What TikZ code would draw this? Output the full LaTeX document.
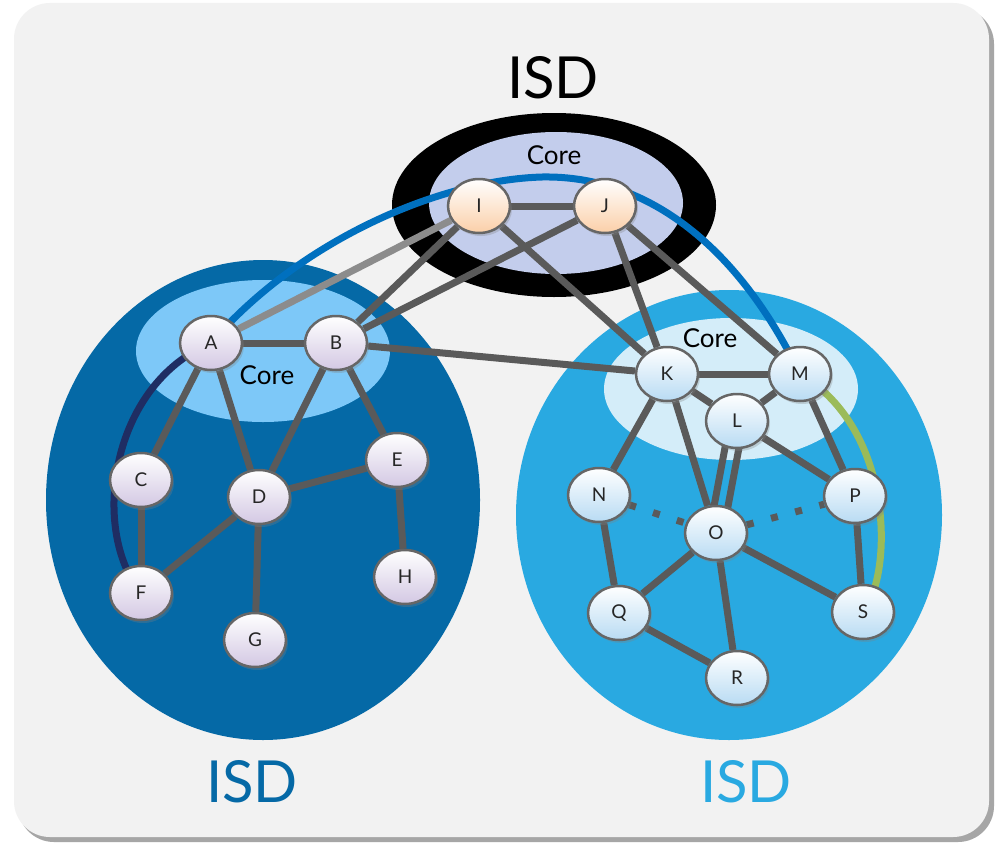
\documentclass[tikz,border=0pt]{standalone}
\usepackage{fontspec}
\setmainfont{Lato}
\usetikzlibrary{shapes.geometric,shadows}
\pgfdeclarelayer{back}
\pgfdeclarelayer{edges}
\pgfsetlayers{back,edges,main}
\definecolor{bgc}{HTML}{F2F2F2}
\definecolor{leftisd}{HTML}{0569A6}
\definecolor{leftcore}{HTML}{7DC8F8}
\definecolor{rightisd}{HTML}{29A9E1}
\definecolor{rightcore}{HTML}{D4EDF9}
\definecolor{topcore}{HTML}{C3CDEC}
\definecolor{edgec}{HTML}{5A5A5A}
\definecolor{edgelight}{HTML}{8C8C8C}
\definecolor{bluearc}{HTML}{0070BF}
\definecolor{navyarc}{HTML}{1F2D63}
\definecolor{greenarc}{HTML}{9BBB59}
\definecolor{ndborder}{HTML}{666666}
\definecolor{purp}{HTML}{D3C8E3}
\definecolor{peach}{HTML}{FBCFA8}
\definecolor{lblue}{HTML}{B8DBF3}
\tikzset{
  nd/.style={ellipse, draw=ndborder, line width=2.5pt, minimum width=62pt, minimum height=54pt,
    inner sep=0pt, font=\fontsize{19}{19}\selectfont, text=black!85,
    drop shadow={opacity=0.3, shadow xshift=2pt, shadow yshift=-3pt}},
  lnd/.style={nd, top color=white, bottom color=purp},
  tnd/.style={nd, top color=white, bottom color=peach},
  rnd/.style={nd, top color=white, bottom color=lblue},
  ed/.style={line width=7pt, draw=edgec},
  arcline/.style={line width=7pt},
  dotted link/.style={line width=7pt, draw=edgec, dash pattern=on 7pt off 18pt},
  corelbl/.style={font=\fontsize{26}{26}\selectfont, text=black},
  isdlbl/.style={font=\fontsize{58}{58}\selectfont}
}
\begin{document}
\begin{tikzpicture}[x=1pt,y=-1pt]
\useasboundingbox (0,0) rectangle (1000,843);
\begin{pgfonlayer}{back}
  \fill[white] (0,0) rectangle (1000,843);
  \fill[black!35, rounded corners=36pt] (18,8) rectangle (994,842);
  \fill[bgc, rounded corners=36pt] (14,3) rectangle (989,837);
  % top ISD
  \fill[black] (554,205) ellipse [x radius=162, y radius=92];
  \fill[topcore] (556,203) ellipse [x radius=127, y radius=71];
  % left ISD
  \fill[leftisd] (263,500) ellipse [x radius=217, y radius=240];
  \fill[leftcore] (263,351) ellipse [x radius=127, y radius=71];
  % right ISD
  \fill[rightisd] (729,515) ellipse [x radius=213, y radius=225];
  \fill[rightcore] (731,389) ellipse [x radius=127, y radius=71];
\end{pgfonlayer}

\node[isdlbl, text=black] (isdtop) at (553,78) {ISD};
\node[isdlbl, text=leftisd] (isdleft) at (252,782) {ISD};
\node[isdlbl, text=rightisd] (isdright) at (746,782) {ISD};
\node[corelbl] (coretop) at (554,155) {Core};
\node[corelbl] (coreleft) at (267,375) {Core};
\node[corelbl] (coreright) at (710,338) {Core};

\node[tnd] (I) at (479,206) {I};
\node[tnd] (J) at (605,206) {J};

\node[lnd] (A) at (211,343) {A};
\node[lnd] (B) at (336,343) {B};
\node[lnd] (C) at (141,480) {C};
\node[lnd] (D) at (259,497) {D};
\node[lnd] (E) at (397,460) {E};
\node[lnd] (F) at (141,593) {F};
\node[lnd] (G) at (255,640) {G};
\node[lnd] (H) at (405,577) {H};

\node[rnd] (K) at (667,374) {K};
\node[rnd] (M) at (800,374) {M};
\node[rnd] (L) at (737,421) {L};
\node[rnd] (N) at (599,495) {N};
\node[rnd] (O) at (716,533) {O};
\node[rnd] (P) at (855,496) {P};
\node[rnd] (Q) at (619,613) {Q};
\node[rnd] (R) at (737,678) {R};
\node[rnd] (S) at (863,612) {S};

\coordinate (arctop) at (542,177);

\begin{pgfonlayer}{edges}
  % coloured paths
  \draw[arcline, bluearc] (A.center) .. controls (300,240) and (440,180) .. (arctop)
        .. controls (650,175) and (740,250) .. (M.center);
  \draw[arcline, navyarc] (A.center) .. controls (110,385) and (90,530) .. (F.center);
  \draw[arcline, greenarc] (M.center) .. controls (895,430) and (893,575) .. (S.center);
  % links
  \draw[ed, draw=edgelight] (I) -- (A);
  \draw[ed] (I) -- (J);
  \draw[ed] (I) -- (B);
  \draw[ed] (I) -- (K);
  \draw[ed] (J) -- (B);
  \draw[ed] (J) -- (K);
  \draw[ed] (J) -- (M);
  \draw[ed] (A) -- (B);
  \draw[ed] (A) -- (C);
  \draw[ed] (A) -- (D);
  \draw[ed] (B) -- (D);
  \draw[ed] (B) -- (E);
  \draw[ed] (B) -- (K);
  \draw[ed] (C) -- (F);
  \draw[ed] (D) -- (E);
  \draw[ed] (D) -- (F);
  \draw[ed] (D) -- (G);
  \draw[ed] (E) -- (H);
  \draw[ed] (K) -- (M);
  \draw[ed] (K) -- (L);
  \draw[ed] (L) -- (M);
  \draw[ed] (K) -- (N);
  \draw[ed] (K) -- (O);
  \draw[ed] ([xshift=-7pt]L.center) -- ([xshift=-7pt]O.center);
  \draw[ed] ([xshift=7pt]L.center) -- ([xshift=7pt]O.center);
  \draw[ed] (L) -- (P);
  \draw[ed] (M) -- (P);
  \draw[ed] (N) -- (Q);
  \draw[ed] (O) -- (Q);
  \draw[ed] (O) -- (R);
  \draw[ed] (O) -- (S);
  \draw[ed] (Q) -- (R);
  \draw[ed] (P) -- (S);
  \draw[dotted link] (N) -- (O);
  \draw[dotted link] (O) -- (P);
\end{pgfonlayer}
\end{tikzpicture}
\end{document}
